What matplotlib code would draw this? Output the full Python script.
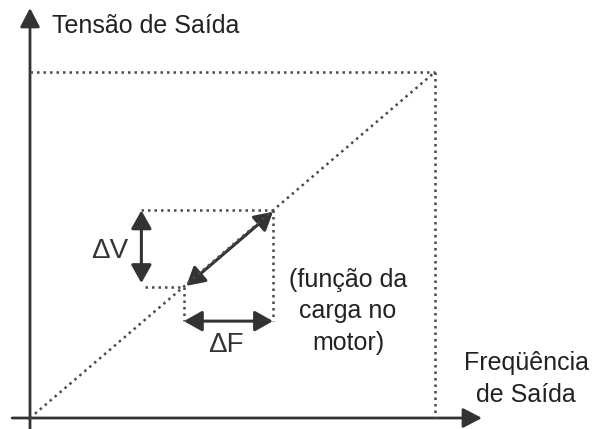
import matplotlib.pyplot as plt
from matplotlib.patches import FancyArrowPatch

# diagram values (percent of rated frequency / voltage)
f_max = 100
v_max = 100
f_low, v_low = 38, 38      # lower operating point on the V/F line
f_high, v_high = 60, 60    # upper operating point on the V/F line
delta_f_level = 28         # height of the delta F arrow
delta_v_pos = 27.5         # position of the delta V arrow

y_label = 'Tensão de Saída'
x_label = ['Freqüência', 'de Saída']
note = ['(função da', 'carga no', 'motor)']

ink = '#333333'
txt = '#222222'
dot = '#4a4a4a'
dotted = (0, (1, 1.6))

fig = plt.figure(figsize=(6, 4.29), dpi=100)
ax = fig.add_axes([0, 0, 1, 1])
# pixel mapping: origin at (30, 418), (100,100) at (435, 72)
ax.set_xlim(-30 / 4.05, 570 / 4.05)
ax.set_ylim(-11 / 3.46, 418 / 3.46)
ax.axis('off')


def arrow(p0, p1, style, lw=2.2, ms=10):
    a = FancyArrowPatch(p0, p1, arrowstyle=style, mutation_scale=ms,
                        color=ink, lw=lw, shrinkA=0, shrinkB=0)
    ax.add_patch(a)


# axes
head = '-|>,head_length=1.15,head_width=0.6'
arrow((0, -4), (0, 118.5), head, lw=2.0)
arrow((-4.4, 0), (111.6, 0), head, lw=2.0)

# V/F line and limits
ax.plot([0, f_max], [0, v_max], ls=dotted, color=dot, lw=1.8)
ax.plot([0, f_max], [v_max, v_max], ls=dotted, color=dot, lw=1.8)
ax.plot([f_max, f_max], [v_max, 0], ls=dotted, color=dot, lw=1.8)

# small rectangle around operating points
ax.plot([delta_v_pos, f_high], [v_high, v_high], ls=dotted, color=dot, lw=1.8)
ax.plot([delta_v_pos + 1, f_low], [v_low, v_low], ls=dotted, color=dot, lw=1.8)
ax.plot([f_high, f_high], [v_high, delta_f_level], ls=dotted, color=dot, lw=1.8)
ax.plot([f_low, f_low], [v_low, delta_f_level], ls=dotted, color=dot, lw=1.8)

big = '<|-|>,head_length=1.1,head_width=0.62'
arrow((delta_v_pos, v_low + 1), (delta_v_pos, v_high), big, lw=2.2)
arrow((f_low, delta_f_level), (f_high, delta_f_level), big, lw=2.2)
arrow((f_low + 0.6, v_low + 0.2), (f_high, v_high - 0.4), big, lw=2.2)

# labels
fs = 18
font = 'Liberation Sans'
ax.text(5.4, 111.3, y_label, fontsize=fs, color=txt, family=font,
        va='baseline', ha='left')
for line, yb in zip(x_label, [13.9, 4.6]):
    ax.text(122.5, yb, line, fontsize=fs, color=txt, family=font,
            va='baseline', ha='center')
for line, yb in zip(note, [37.9, 28.9, 19.65]):
    ax.text(78.5, yb, line, fontsize=fs, color=txt, family=font,
            va='baseline', ha='center')
ax.text(19.75, 46.2, '\u0394V', fontsize=20, color=ink, family=font,
        va='baseline', ha='center')
ax.text(48.4, 19.1, '\u0394F', fontsize=20, color=ink, family=font,
        va='baseline', ha='center')

fig.savefig('out.png', dpi=100)
